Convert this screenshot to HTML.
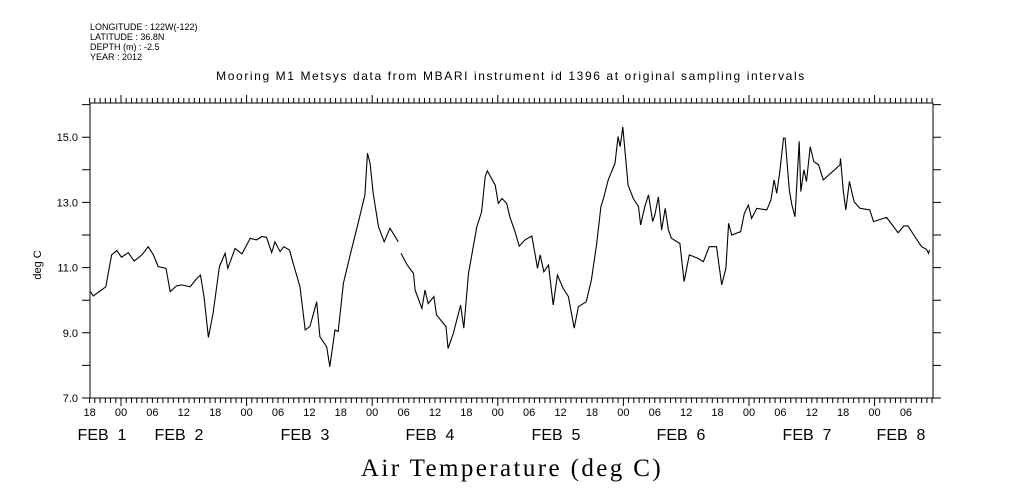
<!DOCTYPE html>
<html><head><meta charset="utf-8"><style>
body{margin:0;background:#fff;width:1009px;height:504px;overflow:hidden}
svg{display:block;font-family:"Liberation Sans",sans-serif}
</style></head><body>
<svg id="chart" width="1009" height="504" viewBox="0 0 1009 504">
<g font-size="9" fill="#000">
<text x="90" y="30">LONGITUDE : 122W(-122)</text>
<text x="90" y="40">LATITUDE : 36.8N</text>
<text x="90" y="50">DEPTH (m) : -2.5</text>
<text x="90" y="60">YEAR : 2012</text>
</g>
<text x="511" y="80" font-size="12" letter-spacing="1.6" text-anchor="middle">Mooring M1 Metsys data from MBARI instrument id 1396 at original sampling intervals</text>
<rect x="90" y="103" width="843" height="295" fill="none" stroke="#000" stroke-width="1"/>
<text transform="translate(41,265) rotate(-90)" font-size="11" text-anchor="middle">deg C</text>
<text x="512" y="476" font-size="25" letter-spacing="2.4" font-family="Liberation Serif, serif" text-anchor="middle">Air Temperature (deg C)</text>
<g id="axes"></g>
<path id="line" fill="none" stroke="#000" stroke-width="1.1"/>
</svg>
<script>
const hours=[-5.8,-5.3,-2.9,-1.8,-0.8,0.1,1.4,2.5,4.0,5.2,6.2,7.1,8.6,9.4,10.6,11.6,13.2,14.5,15.2,15.9,16.7,17.6,18.8,19.9,20.4,21.8,23.1,24.7,25.9,26.9,27.8,28.8,29.4,30.4,31.1,32.2,32.9,34.2,35.2,36.1,37.4,38.0,39.3,39.9,40.9,41.5,42.5,43.8,45.3,46.6,47.1,47.6,48.2,49.2,50.3,51.4,53.0,null,53.5,54.7,55.9,56.2,57.5,58.1,58.7,59.8,60.3,62.1,62.5,63.5,64.9,65.5,66.4,68.0,68.9,69.6,70.0,71.5,72.1,72.8,73.7,74.3,75.3,76.1,77.2,78.5,79.1,79.6,80.1,80.8,81.7,82.6,83.4,84.5,85.5,86.6,87.4,88.9,89.9,90.9,91.7,92.2,93.1,94.4,95.0,95.4,95.9,96.4,96.9,97.9,98.9,99.3,100.1,100.8,101.6,102.0,102.7,103.3,104.0,104.6,105.2,106.8,107.6,108.6,110.3,111.3,112.4,113.8,114.8,115.6,116.1,116.7,118.4,119.1,119.9,120.5,121.5,123.4,124.2,124.8,125.3,125.9,126.6,126.9,127.7,128.2,128.8,129.6,129.9,130.5,131.0,131.7,132.4,133.3,134.2,137.4,137.5,138.0,138.5,139.2,140.1,141.2,143.1,143.8,146.3,148.5,149.6,150.4,151.5,153.0,153.9,154.3,154.5];
const temps=[10.26,10.13,10.41,11.39,11.52,11.32,11.46,11.20,11.39,11.64,11.39,11.03,10.98,10.26,10.44,10.47,10.41,10.67,10.77,10.06,8.86,9.60,11.03,11.44,10.98,11.59,11.42,11.90,11.85,11.95,11.93,11.46,11.79,11.49,11.64,11.54,11.13,10.41,9.09,9.19,9.95,8.88,8.57,7.96,9.09,9.04,10.52,11.39,12.36,13.23,14.51,14.20,13.28,12.25,11.79,12.21,11.79,null,11.44,11.08,10.82,10.31,9.75,10.31,9.90,10.11,9.55,9.19,8.52,8.98,9.85,9.14,10.82,12.25,12.71,13.79,13.97,13.53,12.97,13.12,12.97,12.56,12.10,11.66,11.85,11.97,11.44,10.98,11.39,10.87,11.08,9.85,10.77,10.36,10.11,9.14,9.80,9.95,10.62,11.74,12.87,13.12,13.69,14.20,15.02,14.71,15.32,14.40,13.53,13.12,12.87,12.31,12.87,13.23,12.41,12.61,13.17,12.15,12.82,12.15,11.90,11.74,10.57,11.39,11.28,11.18,11.64,11.64,10.47,10.98,12.36,12.00,12.10,12.66,12.92,12.51,12.82,12.77,13.07,13.69,13.28,13.94,14.97,14.97,13.38,12.92,12.56,14.87,13.33,14.00,13.64,14.71,14.25,14.15,13.69,14.15,14.35,13.38,12.77,13.64,13.02,12.82,12.77,12.41,12.54,12.07,12.28,12.28,12.00,11.64,11.56,11.44,11.54];
const yTicks=[7,8,9,10,11,12,13,14,15,16];
const yLabels=["7.0","9.0","11.0","13.0","15.0"];
const hourLabels=["18","00","06","12"];
const dayLabels=["FEB  1","FEB  2","FEB  3","FEB  4","FEB  5","FEB  6","FEB  7","FEB  8"];
const dayLabelX=[102,179,305,430,556,681,807,901];
const H0=-6,H1=155;
const xs=h=>121+h*5.233;
const ys=t=>398-(t-7)*32.6;
const NS="http://www.w3.org/2000/svg";
const ax=document.getElementById('axes');
function mk(tag,attrs,txt){const e=document.createElementNS(NS,tag);for(const k in attrs)e.setAttribute(k,attrs[k]);if(txt!=null)e.textContent=txt;ax.appendChild(e);return e;}
let d='';
for(let h=H0;h<=H1;h++){
  const x=xs(h).toFixed(1);const major=((h%24)+24)%24===0;const L=major?8:5;
  d+=`M${x} 398V${398+L}M${x} 103V${103-L}`;
}
for(const t of yTicks){const y=ys(t).toFixed(1);d+=`M90 ${y}H82M933 ${y}H941`;}
const tk=mk('path',{d:d,stroke:'#000','stroke-width':1,fill:'none'});


yLabels.forEach(s=>{
  const t=mk('text',{x:78,y:ys(parseFloat(s))+4,'font-size':11,'text-anchor':'end'},s);
  
  
});
for(let h=H0,i=0;h<=H1;h+=6,i++){
  const t=mk('text',{x:xs(h),y:416,'font-size':11,'text-anchor':'middle'},hourLabels[i%4]);
  
  
}
dayLabels.forEach((s,i)=>{
  const t=mk('text',{x:dayLabelX[i],y:440,'font-size':16,'text-anchor':'middle'},s);
  t.setAttribute('style','white-space:pre');
  
  
});
let p='',pen=false;
hours.forEach((h,i)=>{
  if(h==null||temps[i]==null){pen=false;return;}
  p+=(pen?'L':'M')+xs(h).toFixed(1)+' '+ys(temps[i]).toFixed(1);pen=true;
});
document.getElementById('line').setAttribute('d',p);
</script>
</body></html>
